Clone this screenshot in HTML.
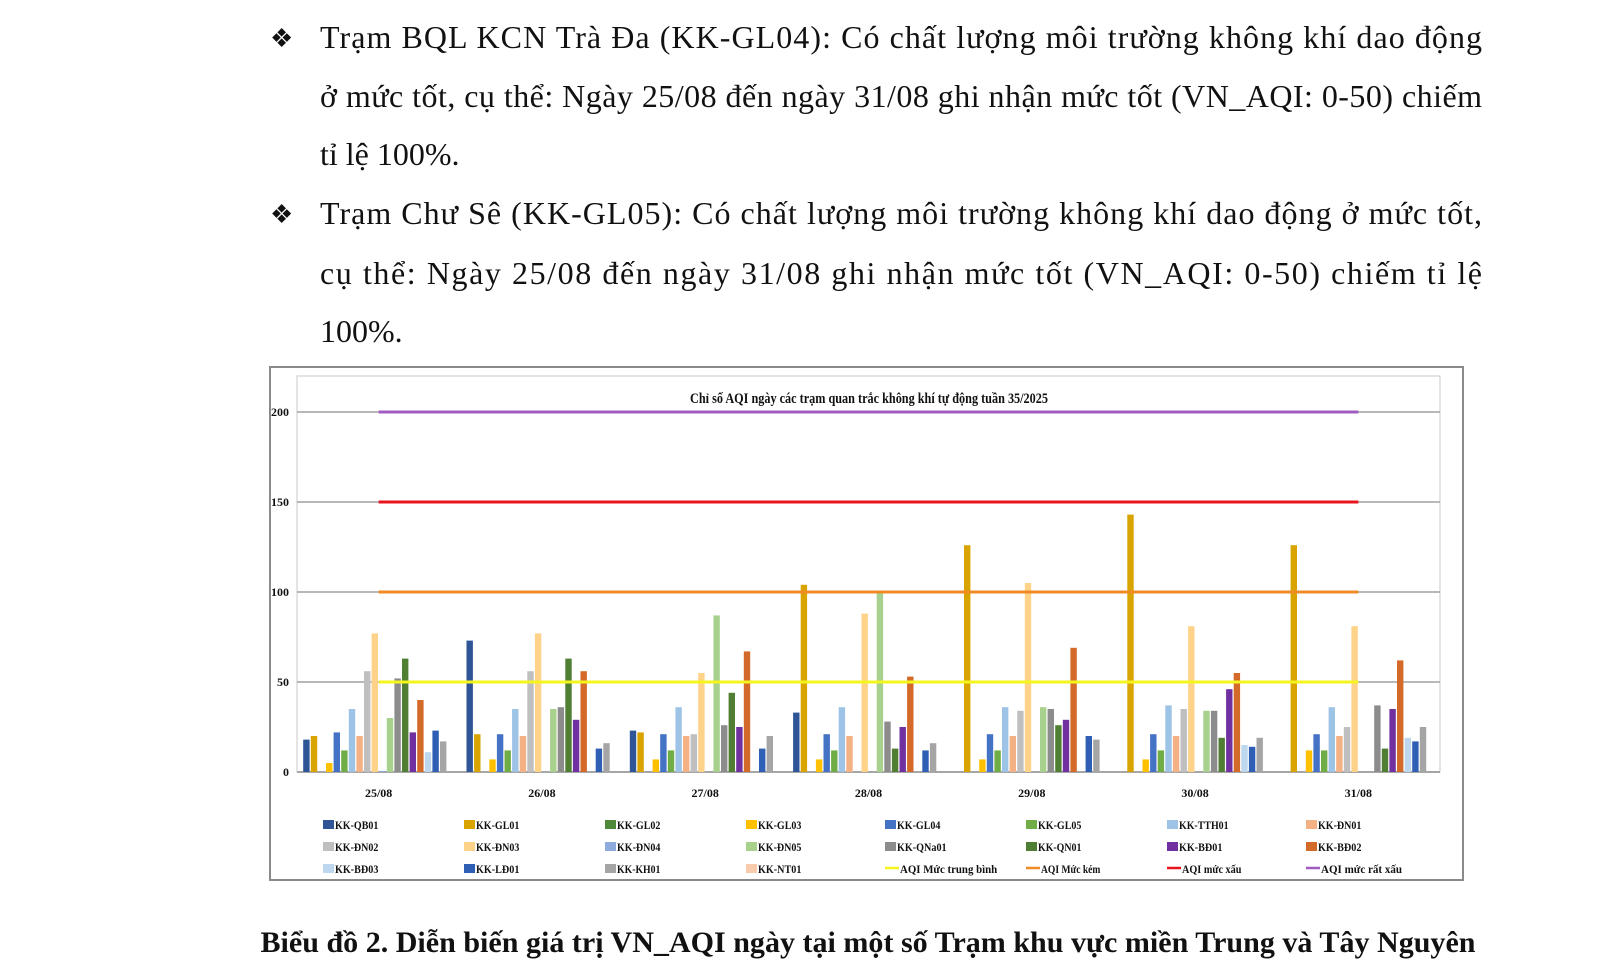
<!DOCTYPE html>
<html><head><meta charset="utf-8"><style>
html,body{margin:0;padding:0;background:#fff;width:1600px;height:973px;overflow:hidden}
svg{display:block}
.p{font-family:"Liberation Serif",serif;font-size:32px;fill:#111}
.b{font-family:"Liberation Serif",serif;font-weight:bold;fill:#111}
</style></head><body>
<svg id="s" width="1600" height="973" xmlns="http://www.w3.org/2000/svg">
<text class="p" x="270" y="47" style="font-size:26px">❖</text>
<text class="p" x="320" y="48" textLength="1162" lengthAdjust="spacing">Trạm BQL KCN Trà Đa (KK-GL04): Có chất lượng môi trường không khí dao động</text>
<text class="p" x="320" y="107" textLength="1162" lengthAdjust="spacing">ở mức tốt, cụ thể: Ngày 25/08 đến ngày 31/08 ghi nhận mức tốt (VN_AQI: 0-50) chiếm</text>
<text class="p" x="320" y="165">tỉ lệ 100%.</text>
<text class="p" x="270" y="223" style="font-size:26px">❖</text>
<text class="p" x="320" y="224" textLength="1162" lengthAdjust="spacing">Trạm Chư Sê (KK-GL05): Có chất lượng môi trường không khí dao động ở mức tốt,</text>
<text class="p" x="320" y="284" textLength="1162" lengthAdjust="spacing">cụ thể: Ngày 25/08 đến ngày 31/08 ghi nhận mức tốt (VN_AQI: 0-50) chiếm tỉ lệ</text>
<text class="p" x="320" y="342">100%.</text>
<rect x="270" y="367" width="1193" height="513" fill="#fff" stroke="#8a8a8a" stroke-width="2"/>
<rect x="297" y="376" width="1143" height="396" fill="#fff" stroke="#c8c8c8" stroke-width="1"/>
<text class="b" x="869" y="403" text-anchor="middle" textLength="358" lengthAdjust="spacingAndGlyphs" style="font-size:15px">Chỉ số AQI ngày các trạm quan trắc không khí tự động tuần 35/2025</text>
<g id="g"></g>
<text class="b" x="868" y="952" text-anchor="middle" textLength="1215" lengthAdjust="spacingAndGlyphs" style="font-size:30px">Biểu đồ 2. Diễn biến giá trị VN_AQI ngày tại một số Trạm khu vực miền Trung và Tây Nguyên</text>
</svg>
<script>
var g=document.getElementById('g'),h='';
var y0=772,k=1.8,L=297,W=1143/7;
[0,50,100,150,200].forEach(function(v){var y=y0-v*k;
h+='<line x1="297" x2="1440" y1="'+y+'" y2="'+y+'" stroke="'+(v?'#a0a0a0':'#888')+'" stroke-width="1.5"/>';
h+='<text class="b" x="289" y="'+(y+4)+'" text-anchor="end" style="font-size:12px">'+v+'</text>';});
var cols=['#2f5597','#d9a400','#4e8a3a','#ffc000','#4472c4','#70ad47','#9dc3e6','#f4b183','#bfbfbf','#ffd28a','#8faadc','#a9d18e','#8c8c8c','#507e32','#7030a0','#d46a2a','#bdd7ee','#2e5fb5','#a5a5a5','#f8cbad'];
var names=['KK-QB01','KK-GL01','KK-GL02','KK-GL03','KK-GL04','KK-GL05','KK-TTH01','KK-ĐN01','KK-ĐN02','KK-ĐN03','KK-ĐN04','KK-ĐN05','KK-QNa01','KK-QN01','KK-BĐ01','KK-BĐ02','KK-BĐ03','KK-LĐ01','KK-KH01','KK-NT01'];
var d=[
[18,20,0,5,22,12,35,20,56,77,0.6,30,52,63,22,40,11,23,17,0],
[73,21,0,7,21,12,35,20,56,77,0,35,36,63,29,56,0,13,16,0],
[23,22,0,7,21,12,36,20,21,55,0,87,26,44,25,67,0,13,20,0],
[33,104,0,7,21,12,36,20,0,88,0,100,28,13,25,53,0,12,16,0],
[0,126,0,7,21,12,36,20,34,105,0,36,35,26,29,69,0,20,18,0],
[0,143,0,7,21,12,37,20,35,81,0,34,34,19,46,55,15,14,19,0],
[0,126,0,12,21,12,36,20,25,81,0,0,37,13,35,62,19,17,25,0]];
var lab=['25/08','26/08','27/08','28/08','29/08','30/08','31/08'];
for(var i=0;i<7;i++){var c=L+W*(i+0.5);
for(var j=0;j<20;j++){var v=d[i][j];if(!v)continue;var x=c+(j-9.5)*7.6-3.2;
h+='<rect x="'+x.toFixed(1)+'" y="'+(y0-v*k).toFixed(1)+'" width="6.4" height="'+(v*k).toFixed(1)+'" fill="'+cols[j]+'"/>';}
h+='<text class="b" x="'+c+'" y="797" text-anchor="middle" style="font-size:12px">'+lab[i]+'</text>';}
var x1=L+W*0.5,x2=L+W*6.5;
[[50,'#f5f51e'],[100,'#f08a24'],[150,'#e8141e'],[200,'#a05cc0']].forEach(function(a){var y=y0-a[0]*k;
h+='<line x1="'+x1+'" x2="'+x2+'" y1="'+y+'" y2="'+y+'" stroke="'+a[1]+'" stroke-width="3"/>';});
var lx=[323,464,605,746,885,1026,1167,1306],ly=[828,850,872];
for(var j=0;j<20;j++){var r=Math.floor(j/8),cc=j%8;
h+='<rect x="'+lx[cc]+'" y="'+(ly[r]-8)+'" width="11" height="9" fill="'+cols[j]+'"/>';
h+='<text class="b" x="'+(lx[cc]+12)+'" y="'+(ly[r]+1)+'" style="font-size:12px" textLength="'+(names[j].length*6.2)+'" lengthAdjust="spacingAndGlyphs">'+names[j]+'</text>';}
var ln=[['AQI Mức trung bình','#f5f51e'],['AQI Mức kém','#f08a24'],['AQI mức xấu','#e8141e'],['AQI mức rất xấu','#a05cc0']];
for(var m=0;m<4;m++){var xx=lx[4+m];
h+='<line x1="'+xx+'" x2="'+(xx+14)+'" y1="'+(ly[2]-4)+'" y2="'+(ly[2]-4)+'" stroke="'+ln[m][1]+'" stroke-width="2.5"/>';
h+='<text class="b" x="'+(xx+15)+'" y="'+(ly[2]+1)+'" style="font-size:12px" textLength="'+(ln[m][0].length*5.4)+'" lengthAdjust="spacingAndGlyphs">'+ln[m][0]+'</text>';}
g.innerHTML=h;
</script>
</body></html>
